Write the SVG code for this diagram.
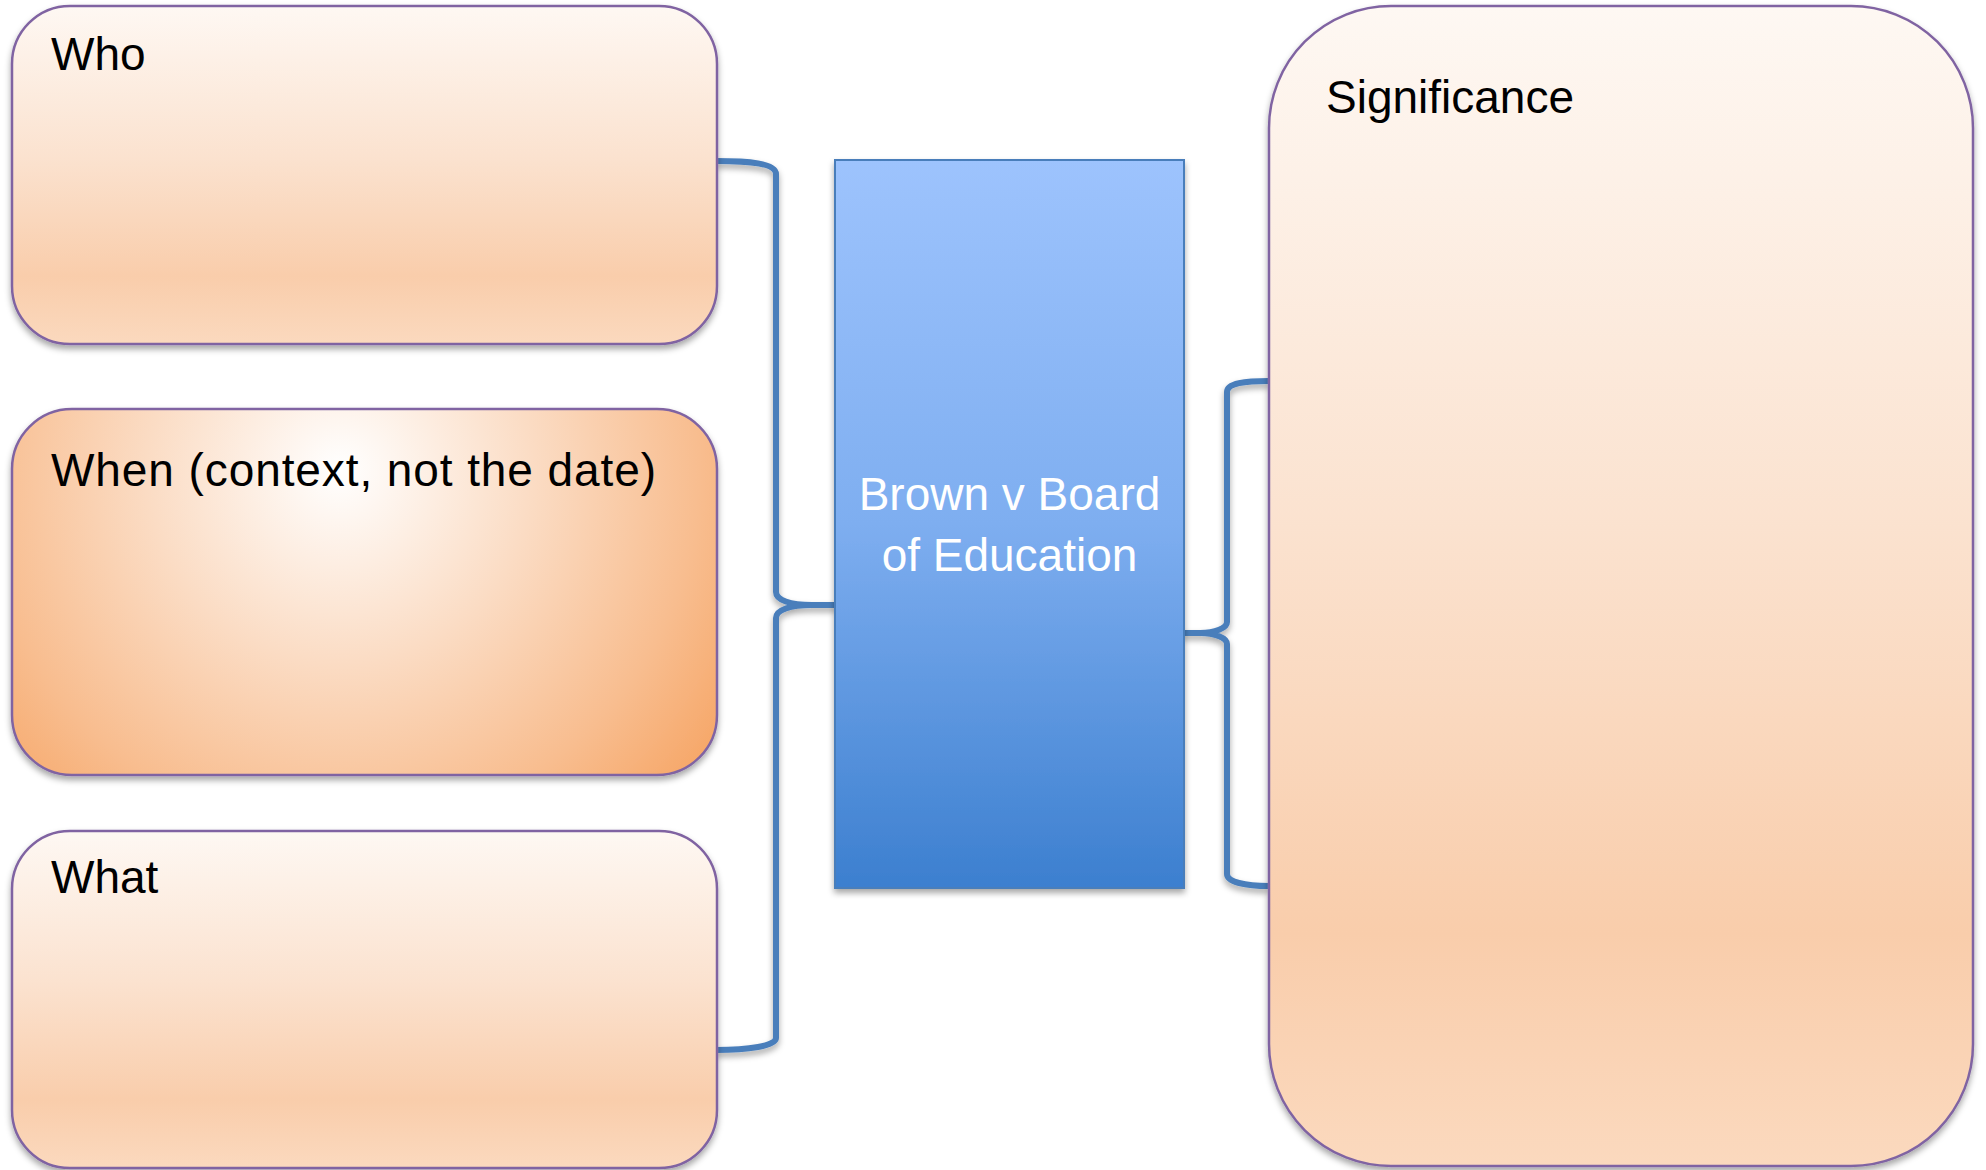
<svg xmlns="http://www.w3.org/2000/svg" width="1986" height="1170" viewBox="0 0 1986 1170">
  <style>
    .box { stroke: #8064a2; stroke-width: 2.5; }
    .lbl { font-family: "Liberation Sans", Arial, sans-serif; font-size: 46px; fill: #000000; }
    .clbl { font-family: "Liberation Sans", Arial, sans-serif; font-size: 46px; fill: #ffffff; text-anchor: middle; }
    .brace { fill: none; stroke: #4a7ebb; stroke-width: 6; stroke-linejoin: round; }
  </style>
  <defs>
    <linearGradient id="peach" x1="0" y1="0" x2="0" y2="1">
      <stop offset="0" stop-color="#fef8f3"/>
      <stop offset="0.45" stop-color="#fbe2cf"/>
      <stop offset="0.8" stop-color="#f9cdab"/>
      <stop offset="1" stop-color="#fbd9be"/>
    </linearGradient>
    <radialGradient id="whenGrad" gradientUnits="userSpaceOnUse" cx="340" cy="470" r="480">
      <stop offset="0" stop-color="#ffffff"/>
      <stop offset="0.4" stop-color="#fbdcc4"/>
      <stop offset="0.75" stop-color="#f8bd8f"/>
      <stop offset="1" stop-color="#f6a463"/>
    </radialGradient>
    <linearGradient id="blue" x1="0" y1="0" x2="0" y2="1">
      <stop offset="0" stop-color="#9dc3fd"/>
      <stop offset="0.5" stop-color="#7eaef0"/>
      <stop offset="1" stop-color="#3c7fcf"/>
    </linearGradient>
    <filter id="shadow" x="-5%" y="-5%" width="110%" height="115%">
      <feDropShadow dx="0" dy="4" stdDeviation="3" flood-color="#000000" flood-opacity="0.35"/>
    </filter>
  </defs>

  <g id="connectors">
    <path class="brace" filter="url(#shadow)" d="M716,161 C748,161 776,163 776,174 L776,592 C776,600 790,605 812,605 L837,605 M812,605 C790,605 776,610 776,618 L776,1038 C776,1046 748,1050 716,1050"/>
    <path class="brace" filter="url(#shadow)" d="M1269,381 C1245,381 1227,383 1227,392 L1227,622 C1227,628 1215,633 1200,633 L1182,633 M1200,633 C1215,633 1227,638 1227,644 L1227,874 C1227,882 1245,886 1269,886"/>
  </g>

  <g id="who">
    <rect class="box" x="12" y="6" width="705" height="338" rx="58" ry="58" fill="url(#peach)" filter="url(#shadow)"/>
    <text class="lbl" x="51" y="70">Who</text>
  </g>

  <g id="when">
    <rect class="box" x="12" y="409" width="705" height="366" rx="60" ry="60" fill="url(#whenGrad)" filter="url(#shadow)"/>
    <text class="lbl" x="51" y="486" font-size="47" textLength="605" lengthAdjust="spacing">When (context, not the date)</text>
  </g>

  <g id="what">
    <rect class="box" x="12" y="831" width="705" height="337" rx="58" ry="58" fill="url(#peach)" filter="url(#shadow)"/>
    <text class="lbl" x="51" y="893">What</text>
  </g>

  <g id="center">
    <rect x="835" y="160" width="349" height="728" fill="url(#blue)" stroke="#4a7ebb" stroke-width="2" filter="url(#shadow)"/>
    <text class="clbl" x="1009.5" y="510">Brown v Board</text>
    <text class="clbl" x="1009.5" y="571">of Education</text>
  </g>

  <g id="significance">
    <rect class="box" x="1269" y="6" width="704" height="1160" rx="122" ry="122" fill="url(#peach)" filter="url(#shadow)"/>
    <text class="lbl" x="1326" y="113">Significance</text>
  </g>
</svg>
